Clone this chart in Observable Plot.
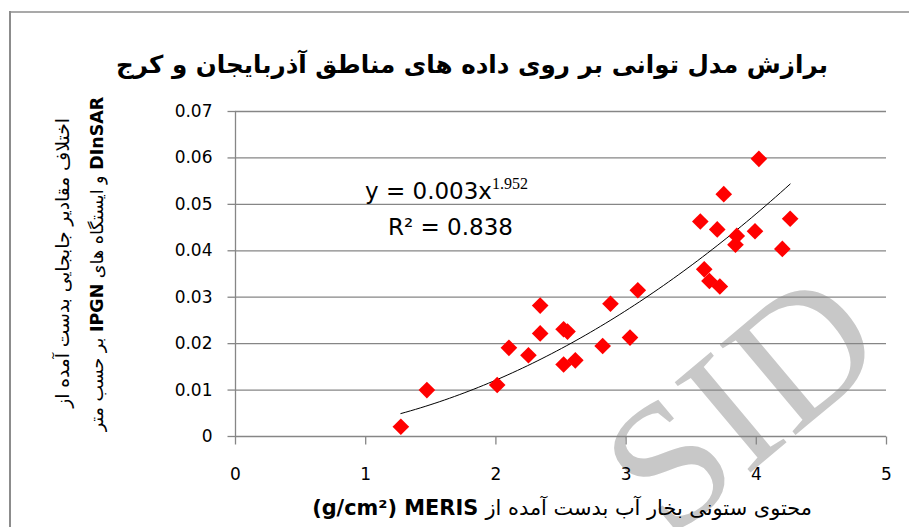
<!DOCTYPE html>
<html><head><meta charset="utf-8">
<script src="https://cdn.jsdelivr.net/npm/d3@7"></script>
<script src="https://cdn.jsdelivr.net/npm/@observablehq/plot@0.6"></script>
<style>
html,body{margin:0;padding:0;background:#fff;}
#wrap{position:relative;width:909px;height:527px;overflow:hidden;}
</style></head><body>
<div id="wrap"></div>
<script>
// ---- data ----
const xValues = [1.27, 1.47, 2.01, 2.10, 2.25, 2.34, 2.34, 2.52, 2.55, 2.52, 2.61, 2.82, 2.88, 3.03, 3.09,
                 3.57, 3.60, 3.64, 3.70, 3.72, 3.75, 3.85, 3.84, 3.99, 4.02, 4.20, 4.26];
const yValues = [0.0021, 0.0100, 0.0111, 0.0191, 0.0175, 0.0222, 0.0282, 0.0231, 0.0226, 0.0155, 0.0164, 0.0195, 0.0286, 0.0213, 0.0315,
                 0.0463, 0.0360, 0.0335, 0.0446, 0.0323, 0.0522, 0.0432, 0.0413, 0.0442, 0.0598, 0.0404, 0.0469];
const xTicks = [0, 1, 2, 3, 4, 5];
const xTickLabels = ["0", "1", "2", "3", "4", "5"];
const yTicks = [0, 0.01, 0.02, 0.03, 0.04, 0.05, 0.06, 0.07];
const yTickLabels = ["0", "0.01", "0.02", "0.03", "0.04", "0.05", "0.06", "0.07"];
const titleText = "برازش مدل توانی بر روی داده های مناطق آذربایجان و کرج";
const xLabelLatin = "(g/cm²) MERIS ";
const xLabelArabic = "محتوی ستونی بخار آب بدست آمده از";
const yLabelLine1 = "اختلاف مقادیر جابجایی بدست آمده از";
const yLabelLine2Parts = [["DInSAR", true], [" و ایستگاه های ", false], ["IPGN", true], [" بر حسب متر", false]];
const eqMain = "y = 0.003x";
const eqExp = "1.952";
const eqR2 = "R² = 0.838";
const watermark = "SID";

// ---- build tables ----
const points = xValues.map((x, i) => ({x, y: yValues[i]}));
const yTickData = yTicks.map((v, i) => ({v, label: yTickLabels[i]}));
const xTickData = xTicks.map((v, i) => ({v, label: xTickLabels[i]}));

// power trendline (least squares in log-log space, as Excel does)
const lx = xValues.map(Math.log), ly = yValues.map(Math.log);
const mx = d3.mean(lx), my = d3.mean(ly);
const b = d3.sum(lx, (v, i) => (v - mx) * (ly[i] - my)) / d3.sum(lx, v => (v - mx) ** 2);
const a = Math.exp(my - b * mx);
const [xMin, xMax] = d3.extent(xValues);
const trend = d3.range(0, 81).map(i => {
  const x = xMin + (xMax - xMin) * i / 80;
  return {x, y: a * Math.pow(x, b)};
});

const gray = "#868686";
const tickDown = {draw(ctx) { ctx.moveTo(0, 0); ctx.lineTo(0, 8); }};
const tickLeft = {draw(ctx) { ctx.moveTo(0, 0); ctx.lineTo(-8, 0); }};

const plot = Plot.plot({
  width: 909, height: 527,
  marginLeft: 235, marginRight: 23, marginTop: 111, marginBottom: 91,
  x: {domain: [0, 5], axis: null},
  y: {domain: [0, 0.07], axis: null},
  style: {fontFamily: "DejaVu Sans", background: "white", overflow: "hidden"},
  marks: [
    Plot.ruleY(yTicks.slice(1), {x1: () => 0, x2: () => 5, stroke: gray, strokeWidth: 1.3}),
    Plot.ruleX([0], {y1: () => 0, y2: () => 0.07, stroke: gray, strokeWidth: 1.3}),
    Plot.ruleY([0], {x1: () => 0, x2: () => 5, stroke: gray, strokeWidth: 1.3}),
    Plot.dot(yTickData, {x: () => 0, y: "v", symbol: tickLeft, stroke: gray, fill: "none", strokeWidth: 1.3}),
    Plot.dot(xTickData, {x: "v", y: () => 0, symbol: tickDown, stroke: gray, fill: "none", strokeWidth: 1.3}),
    Plot.text(yTickData, {x: () => 0, y: "v", text: "label", textAnchor: "end", lineAnchor: "middle", dx: -23, fontSize: 17, fill: "black"}),
    Plot.text(xTickData, {x: "v", y: () => 0, text: "label", textAnchor: "middle", lineAnchor: "top", dy: 31, fontSize: 17, fill: "black"}),
    Plot.line(trend, {x: "x", y: "y", stroke: "black", strokeWidth: 1}),
    Plot.dot(points, {x: "x", y: "y", symbol: "diamond2", r: 7.5, fill: "#ff0000", stroke: "none"})
  ]
});
document.getElementById("wrap").appendChild(plot);

const svg = d3.select(plot);
// watermark behind everything
svg.insert("text", ":first-child")
  .attr("transform", "translate(780,448) rotate(-40)")
  .attr("text-anchor", "middle")
  .attr("font-family", "Liberation Serif")
  .attr("font-size", 180)
  .attr("fill", "#c8c8c8")
  .text(watermark);

// outer chart border
svg.append("line").attr("x1", 10).attr("x2", 10).attr("y1", 11).attr("y2", 527).attr("stroke", "#8c8c8c").attr("stroke-width", 2);
svg.append("line").attr("x1", 9).attr("x2", 909).attr("y1", 12).attr("y2", 12).attr("stroke", "#8c8c8c").attr("stroke-width", 1.5);

function fitWidth(sel, target) {
  const w = sel.node().getComputedTextLength();
  const fs = +sel.attr("font-size");
  sel.attr("font-size", fs * target / w);
}

// title
const t = svg.append("text")
  .attr("x", 472).attr("y", 73)
  .attr("text-anchor", "middle")
  .attr("font-family", "DejaVu Sans")
  .attr("font-weight", "bold")
  .attr("font-size", 30)
  .attr("fill", "black")
  .text(titleText);
fitWidth(t, 712);

// x label
const xl = svg.append("text")
  .attr("x", 562).attr("y", 515)
  .attr("text-anchor", "middle")
  .attr("font-family", "DejaVu Sans")
  .attr("font-size", 17)
  .attr("fill", "black");
xl.append("tspan").attr("font-weight", "bold").text(xLabelLatin);
xl.append("tspan").text(xLabelArabic);
fitWidth(xl, 500);

// y label line 1
const y1 = svg.append("text")
  .attr("transform", "translate(69,263) rotate(-90)")
  .attr("text-anchor", "middle")
  .attr("font-family", "DejaVu Sans")
  .attr("font-size", 16)
  .attr("fill", "black")
  .text(yLabelLine1);
fitWidth(y1, 290);

// y label line 2
const y2 = svg.append("text")
  .attr("transform", "translate(103,264) rotate(-90)")
  .attr("text-anchor", "middle")
  .attr("direction", "rtl")
  .attr("font-family", "DejaVu Sans")
  .attr("font-size", 16)
  .attr("fill", "black");
yLabelLine2Parts.forEach(([s, bold], i) => {
  const txt = (i === 0 ? "\u202B" : "") + s + (i === yLabelLine2Parts.length - 1 ? "\u202C" : "");
  const ts = y2.append("tspan").text(txt);
  if (bold) ts.attr("font-weight", "bold");
});
fitWidth(y2, 335);

// equation labels
const eq = svg.append("text")
  .attr("x", 365).attr("y", 199)
  .attr("text-anchor", "start")
  .attr("font-family", "DejaVu Sans")
  .attr("font-size", 23)
  .attr("fill", "black");
eq.append("tspan").text(eqMain);
eq.append("tspan").attr("font-family", "Liberation Serif").attr("font-size", 16).attr("dy", -10).text(eqExp);

svg.append("text")
  .attr("x", 388).attr("y", 235)
  .attr("text-anchor", "start")
  .attr("font-family", "DejaVu Sans")
  .attr("font-size", 23)
  .attr("fill", "black")
  .text(eqR2);
</script>
</body></html>
